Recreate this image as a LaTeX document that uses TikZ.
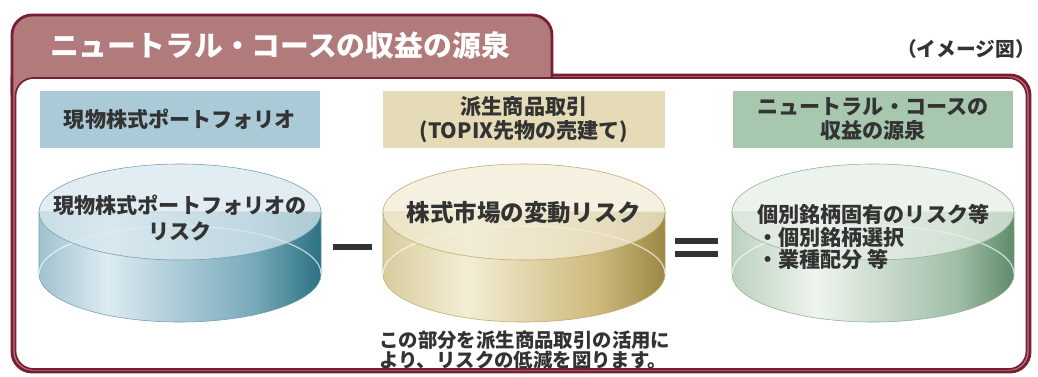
\documentclass[tikz,border=0pt]{standalone}
\usepackage{fontspec}
\newfontfamily\jp{Noto Sans CJK JP}
\usetikzlibrary{positioning}

\definecolor{maroon}{HTML}{7A1C33}
\definecolor{rose}{HTML}{B07B7A}
\definecolor{ink}{HTML}{333333}
\definecolor{bluebox}{HTML}{AACAD7}
\definecolor{yellowbox}{HTML}{E5DBB6}
\definecolor{greenbox}{HTML}{A7C7AF}

\definecolor{blueA}{HTML}{A0C2CF}
\definecolor{blueB}{HTML}{DCEBF1}
\definecolor{blueC}{HTML}{78AABB}
\definecolor{blueD}{HTML}{2C7282}
\definecolor{blueTop}{HTML}{D8E7EE}
\definecolor{blueLine}{HTML}{6E9FB0}
\definecolor{yellowA}{HTML}{D8CD9F}
\definecolor{yellowB}{HTML}{F3EDD4}
\definecolor{yellowC}{HTML}{CDB97C}
\definecolor{yellowD}{HTML}{9C8844}
\definecolor{yellowTop}{HTML}{F2ECD5}
\definecolor{yellowLine}{HTML}{BDAA6C}
\definecolor{greenA}{HTML}{BDD2BF}
\definecolor{greenB}{HTML}{EEF4EE}
\definecolor{greenC}{HTML}{A0BEA6}
\definecolor{greenD}{HTML}{5F8B6A}
\definecolor{greenTop}{HTML}{E6EEE6}
\definecolor{greenLine}{HTML}{8DB194}

\pgfdeclarehorizontalshading{blueside}{100bp}{color(0bp)=(blueA); color(25bp)=(blueA); color(37bp)=(blueB); color(63bp)=(blueC); color(75bp)=(blueD); color(100bp)=(blueD)}
\pgfdeclarehorizontalshading{yellowside}{100bp}{color(0bp)=(yellowA); color(25bp)=(yellowA); color(40bp)=(yellowB); color(63bp)=(yellowC); color(75bp)=(yellowD); color(100bp)=(yellowD)}
\pgfdeclarehorizontalshading{greenside}{100bp}{color(0bp)=(greenA); color(25bp)=(greenA); color(40bp)=(greenB); color(65bp)=(greenC); color(75bp)=(greenD); color(100bp)=(greenD)}

\begin{document}
\begin{tikzpicture}[x=0.025cm, y=-0.025cm,
    frame/.style={draw=maroon, line width=2pt},
    head/.style={minimum height=1.425cm, inner sep=0pt, align=center, text=ink,
      font=\jp\bfseries\fontsize{15}{17}\selectfont},
    disc text/.style={text=ink, inner sep=0pt, font=\jp\bfseries\fontsize{15}{19}\selectfont}]
   \useasboundingbox (0,0) rectangle (1038,376);

   % frame with title tab
   \filldraw[frame, fill=rose, rounded corners=0.5cm] (552,75) -- (1030,75) -- (1030,372) -- (12,372) -- (12,75);
   \filldraw[frame, fill=rose, rounded corners=0.5cm] (12,95) -- (12,15) -- (552,15) -- (552,95);
   \filldraw[fill=white, draw=maroon, line width=1.2pt, rounded corners=0.45cm] (15.5,78) rectangle (1026.5,369);

   \node[text=white, font=\jp\bfseries\fontsize{20.5}{22}\selectfont] (title) at (280,45) {ニュートラル・コースの収益の源泉};
   \node[text=ink, font=\jp\bfseries\fontsize{14}{16}\selectfont] (imglabel) at (966,49) {（イメージ図）};

   \node[head, fill=bluebox, minimum width=7cm]      (pfhead)  at (180,119.5) {現物株式ポートフォリオ};
   \node[head, fill=yellowbox, minimum width=7.05cm] (futhead) at (524,119.5) {派生商品取引\\(TOPIX先物の売建て)};
   \node[head, fill=greenbox, minimum width=7cm]     (srchead) at (873,119.5) {ニュートラル・コースの\\収益の源泉};

   % discs
   \foreach \cx/\sh/\tp/\ln in {180/blueside/blueTop/blueLine, 524/yellowside/yellowTop/yellowLine, 873/greenside/greenTop/greenLine} {
     \shadedraw[shading=\sh, draw=\ln] (\cx-141,212) -- (\cx-141,274)
       arc[start angle=180, end angle=360, x radius=3.525cm, y radius=1.2cm] -- (\cx+141,212) -- cycle;
     \draw[white, opacity=0.7, thick] (\cx-141,274) arc[start angle=180, end angle=0, x radius=3.525cm, y radius=1.2cm];
     \filldraw[fill=\tp, fill opacity=0.75, draw=\ln] (\cx,212) ellipse [x radius=3.525cm, y radius=1.2cm];
   }

   \node[disc text, align=center] (pfrisk)  at (180,218) {現物株式ポートフォリオの\\リスク};
   \node[disc text, font=\jp\bfseries\fontsize{16.7}{19}\selectfont] (mktrisk) at (524,213) {株式市場の変動リスク};
   \node[disc text, align=left, anchor=west, font=\jp\bfseries\fontsize{15}{16.3}\selectfont] (srcrisk) at (757,237) {個別銘柄固有のリスク等\\・個別銘柄選択\\・業種配分 等};

   % minus and equals
   \fill[ink] (333,244) rectangle (372,250);
   \fill[ink] (675,238) rectangle (718,243.5);
   \fill[ink] (675,251) rectangle (718,256.5);

   \node[text=ink, align=left, anchor=west, inner sep=0pt, font=\jp\bfseries\fontsize{13.8}{14.2}\selectfont] (note) at (379,350)
     {この部分を派生商品取引の活用に\\より、リスクの低減を図ります。};
\end{tikzpicture}
\end{document}
